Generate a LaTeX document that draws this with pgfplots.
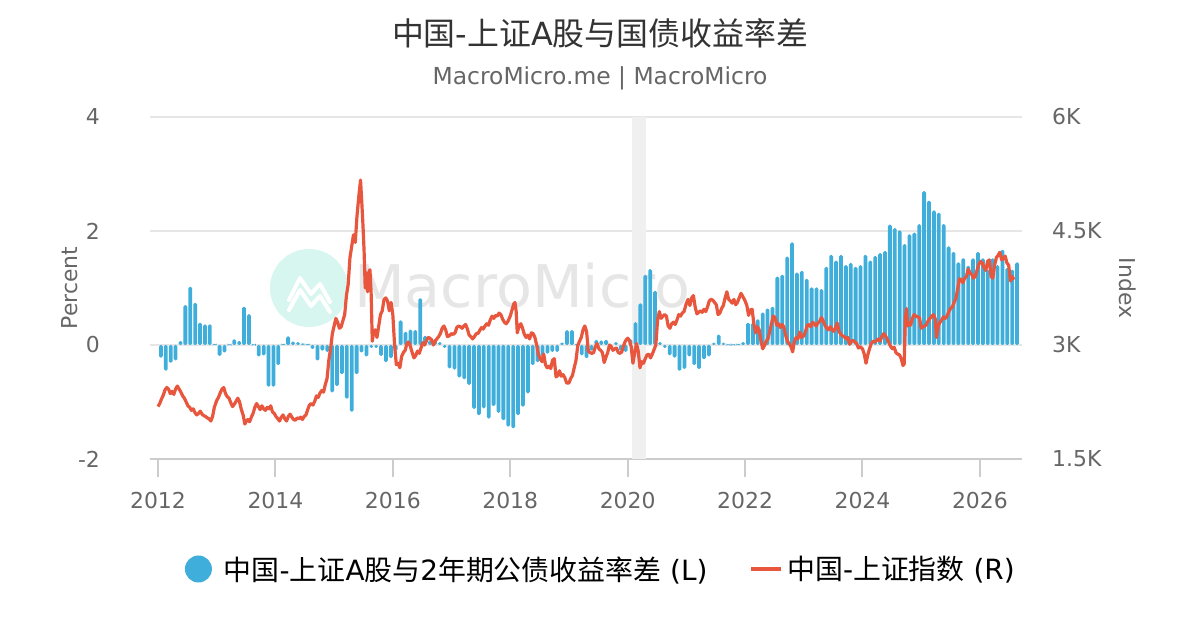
\documentclass[border=0pt]{standalone}
\usepackage{pgfplots}
\pgfplotsset{compat=1.18}
\usepackage{pgfplotstable}
\usepackage{fontspec}
\setmainfont{DejaVu Sans}
\newfontfamily\cjk{Noto Sans CJK SC}
\definecolor{bblue}{HTML}{3FAEDB}
\definecolor{lred}{HTML}{E8563E}
\definecolor{tgray}{HTML}{666666}
\definecolor{ttl}{HTML}{333333}
\definecolor{gridc}{HTML}{E6E6E6}
\definecolor{axc}{HTML}{CCCCCC}
\definecolor{mint}{HTML}{D7F6EF}
\definecolor{wm}{HTML}{E6E6E7}

\pgfplotstableread{
m v
0 -0.22
1 -0.45
2 -0.31
3 -0.27
4 0.07
5 0.70
6 1.02
7 0.74
8 0.39
9 0.36
10 0.36
11 0.02
12 -0.19
13 -0.13
14 0.01
15 0.10
16 0.07
17 0.67
18 0.54
19 0.01
20 -0.20
21 -0.18
22 -0.73
23 -0.73
24 -0.35
25 0.02
26 0.15
27 0.06
28 0.05
29 0.03
30 0.02
31 -0.07
32 -0.27
33 -0.10
34 -0.12
35 -0.83
36 -0.72
37 -0.51
38 -0.94
39 -1.17
40 -0.51
41 -0.13
42 -0.20
43 -0.05
44 -0.05
45 -0.19
46 -0.30
47 -0.23
48 -0.10
49 0.43
50 0.23
51 0.27
52 0.26
53 0.82
54 0.16
55 0.08
56 0.10
57 0.05
58 -0.05
59 -0.41
60 -0.43
61 -0.57
62 -0.60
63 -0.70
64 -1.12
65 -1.23
66 -1.11
67 -1.29
68 -1.07
69 -1.19
70 -1.32
71 -1.43
72 -1.46
73 -1.23
74 -1.08
75 -0.85
76 -0.35
77 -0.30
78 -0.20
79 -0.15
80 -0.12
81 -0.12
82 0.04
83 0.26
84 0.26
85 0.02
86 -0.18
87 -0.23
88 -0.10
89 0.09
90 0.08
91 0.09
92 -0.05
93 0.05
94 -0.10
95 -0.12
96 0.10
97 0.40
98 0.73
99 1.23
100 1.33
101 0.95
102 0.05
103 -0.05
104 -0.18
105 -0.22
106 -0.45
107 -0.42
108 -0.20
109 -0.35
110 -0.42
111 -0.25
112 -0.20
113 0.04
114 0.18
115 0.04
116 0.01
117 0.01
118 0.02
119 0.05
120 0.39
121 0.39
122 0.45
123 0.57
124 0.64
125 0.67
126 1.20
127 1.23
128 1.55
129 1.80
130 1.27
131 1.30
132 1.16
133 1.01
134 1.01
135 0.98
136 1.37
137 1.58
138 1.48
139 1.58
140 1.40
141 1.44
142 1.37
143 1.40
144 1.58
145 1.48
146 1.56
147 1.61
148 1.65
149 2.11
150 2.05
151 2.01
152 1.77
153 1.94
154 1.97
155 2.12
156 2.70
157 2.53
158 2.36
159 2.32
160 2.12
161 1.73
162 1.63
163 1.45
164 1.52
165 1.39
166 1.52
167 1.63
168 1.52
169 1.32
170 1.52
171 1.40
172 1.67
173 1.35
174 1.32
175 1.45
}\spread

\pgfplotstableread{
t y
2012.00 2190
2012.03 2230
2012.06 2290
2012.09 2340
2012.12 2410
2012.15 2440
2012.18 2420
2012.21 2360
2012.24 2390
2012.27 2350
2012.30 2420
2012.33 2460
2012.36 2420
2012.39 2380
2012.42 2330
2012.45 2300
2012.48 2250
2012.51 2200
2012.54 2180
2012.57 2140
2012.60 2160
2012.63 2110
2012.66 2080
2012.69 2100
2012.72 2130
2012.75 2090
2012.78 2070
2012.81 2060
2012.84 2040
2012.87 2030
2012.90 2000
2012.93 2060
2012.96 2180
2013.00 2270
2013.03 2310
2013.06 2370
2013.09 2420
2013.12 2440
2013.15 2360
2013.18 2320
2013.21 2300
2013.24 2240
2013.27 2190
2013.30 2220
2013.33 2260
2013.36 2300
2013.39 2250
2013.42 2150
2013.45 2080
2013.48 1960
2013.50 1990
2013.53 2020
2013.56 1990
2013.59 2050
2013.62 2100
2013.65 2180
2013.68 2230
2013.71 2190
2013.74 2150
2013.77 2200
2013.80 2160
2013.83 2140
2013.86 2180
2013.89 2160
2013.92 2200
2013.95 2120
2013.98 2100
2014.01 2060
2014.04 2030
2014.07 2000
2014.10 2050
2014.13 2080
2014.16 2030
2014.19 2000
2014.22 2060
2014.25 2090
2014.28 2050
2014.31 2020
2014.34 2010
2014.37 2040
2014.40 2030
2014.43 2050
2014.46 2020
2014.49 2060
2014.52 2080
2014.55 2150
2014.58 2210
2014.61 2230
2014.64 2210
2014.67 2260
2014.70 2330
2014.73 2310
2014.76 2370
2014.79 2400
2014.82 2380
2014.85 2480
2014.88 2560
2014.91 2800
2014.94 2950
2014.97 3150
2015.00 3250
2015.03 3350
2015.06 3300
2015.09 3220
2015.12 3240
2015.15 3320
2015.18 3400
2015.21 3650
2015.24 3800
2015.27 4150
2015.30 4300
2015.33 4450
2015.36 4350
2015.39 4700
2015.42 4950
2015.45 5170
2015.47 4900
2015.49 4600
2015.51 4250
2015.53 3750
2015.55 3950
2015.57 3700
2015.59 3950
2015.61 3990
2015.63 3700
2015.65 3050
2015.67 3150
2015.70 3200
2015.73 3100
2015.76 3250
2015.79 3400
2015.82 3450
2015.85 3600
2015.88 3620
2015.91 3580
2015.94 3450
2015.97 3560
2016.00 3400
2016.03 3000
2016.06 2740
2016.09 2760
2016.12 2700
2016.15 2850
2016.18 2900
2016.21 2930
2016.24 3020
2016.27 3040
2016.30 2980
2016.33 2900
2016.36 2830
2016.39 2860
2016.42 2920
2016.45 2890
2016.48 2960
2016.51 3030
2016.54 3000
2016.57 3050
2016.60 3100
2016.63 3090
2016.66 3070
2016.69 3000
2016.72 3050
2016.75 3080
2016.78 3110
2016.81 3150
2016.84 3220
2016.87 3250
2016.90 3200
2016.93 3110
2016.96 3120
2017.00 3150
2017.03 3140
2017.06 3160
2017.09 3230
2017.12 3250
2017.15 3240
2017.18 3220
2017.21 3250
2017.24 3270
2017.27 3210
2017.30 3130
2017.33 3110
2017.36 3080
2017.39 3110
2017.42 3150
2017.45 3150
2017.48 3190
2017.51 3230
2017.54 3210
2017.57 3250
2017.60 3280
2017.63 3260
2017.66 3330
2017.69 3380
2017.72 3350
2017.75 3390
2017.78 3380
2017.81 3420
2017.84 3400
2017.87 3340
2017.90 3300
2017.93 3280
2017.96 3310
2018.00 3380
2018.03 3460
2018.06 3540
2018.08 3560
2018.10 3450
2018.12 3160
2018.15 3250
2018.18 3280
2018.21 3220
2018.24 3140
2018.27 3100
2018.30 3130
2018.33 3080
2018.36 3160
2018.39 3150
2018.42 3100
2018.45 3000
2018.48 2880
2018.51 2820
2018.54 2780
2018.57 2880
2018.60 2740
2018.63 2700
2018.66 2720
2018.69 2690
2018.72 2800
2018.75 2820
2018.78 2580
2018.81 2600
2018.84 2660
2018.87 2590
2018.90 2610
2018.93 2570
2018.96 2500
2019.00 2500
2019.03 2560
2019.06 2600
2019.09 2700
2019.12 2800
2019.15 2990
2019.18 3050
2019.21 3100
2019.24 3200
2019.27 3250
2019.30 3180
2019.33 2920
2019.36 2900
2019.39 2890
2019.42 2900
2019.45 2980
2019.48 3020
2019.51 2950
2019.54 2930
2019.57 2900
2019.60 2770
2019.63 2840
2019.66 2900
2019.69 3000
2019.72 2980
2019.75 2930
2019.78 2950
2019.81 2960
2019.84 2900
2019.87 2890
2019.90 2910
2019.93 2990
2019.96 3050
2020.00 3090
2020.03 3060
2020.06 2980
2020.09 2760
2020.12 2900
2020.15 3020
2020.18 2920
2020.21 2700
2020.24 2780
2020.27 2760
2020.30 2820
2020.33 2870
2020.36 2880
2020.39 2830
2020.42 2880
2020.45 2940
2020.48 3000
2020.51 3330
2020.54 3440
2020.57 3350
2020.60 3380
2020.63 3400
2020.66 3380
2020.69 3250
2020.72 3220
2020.75 3280
2020.78 3300
2020.81 3270
2020.84 3330
2020.87 3400
2020.90 3380
2020.93 3420
2020.96 3440
2021.00 3550
2021.03 3600
2021.06 3520
2021.09 3620
2021.12 3650
2021.15 3500
2021.18 3410
2021.21 3430
2021.24 3450
2021.27 3430
2021.30 3470
2021.33 3440
2021.36 3500
2021.39 3580
2021.42 3600
2021.45 3590
2021.48 3560
2021.51 3530
2021.54 3400
2021.57 3420
2021.60 3480
2021.63 3520
2021.66 3620
2021.69 3700
2021.72 3600
2021.75 3580
2021.78 3550
2021.81 3600
2021.84 3530
2021.87 3560
2021.90 3620
2021.93 3680
2021.96 3640
2022.00 3580
2022.03 3520
2022.06 3390
2022.09 3460
2022.12 3470
2022.15 3280
2022.18 3160
2022.21 3240
2022.24 3200
2022.27 3060
2022.30 2950
2022.33 2990
2022.36 3050
2022.39 3080
2022.42 3180
2022.45 3280
2022.48 3380
2022.51 3360
2022.54 3260
2022.57 3280
2022.60 3230
2022.63 3270
2022.66 3240
2022.69 3130
2022.72 3050
2022.75 3020
2022.78 2980
2022.81 2910
2022.84 3050
2022.87 3100
2022.90 3080
2022.93 3170
2022.96 3100
2023.00 3120
2023.03 3180
2023.06 3260
2023.09 3270
2023.12 3240
2023.15 3300
2023.18 3280
2023.21 3250
2023.24 3290
2023.27 3310
2023.30 3360
2023.33 3320
2023.36 3260
2023.39 3220
2023.42 3200
2023.45 3240
2023.48 3200
2023.51 3180
2023.54 3230
2023.57 3290
2023.60 3180
2023.63 3140
2023.66 3120
2023.69 3110
2023.72 3080
2023.75 3100
2023.78 3010
2023.81 3050
2023.84 3060
2023.87 3040
2023.90 3020
2023.93 2960
2023.96 2980
2024.00 2950
2024.03 2880
2024.06 2760
2024.09 2870
2024.12 2950
2024.15 3020
2024.18 3050
2024.21 3040
2024.24 3060
2024.27 3080
2024.30 3050
2024.33 3110
2024.36 3150
2024.39 3120
2024.42 3080
2024.45 3030
2024.48 2980
2024.51 2950
2024.54 2970
2024.57 2900
2024.60 2880
2024.63 2870
2024.66 2820
2024.69 2730
2024.71 2750
2024.73 3350
2024.75 3480
2024.77 3250
2024.79 3300
2024.82 3260
2024.85 3350
2024.88 3400
2024.91 3380
2024.94 3370
2024.97 3360
2025.00 3220
2025.03 3240
2025.06 3250
2025.09 3270
2025.12 3320
2025.15 3350
2025.18 3380
2025.21 3400
2025.24 3340
2025.26 3100
2025.29 3250
2025.32 3300
2025.35 3330
2025.38 3370
2025.41 3350
2025.44 3380
2025.47 3440
2025.50 3480
2025.53 3500
2025.56 3560
2025.59 3610
2025.62 3730
2025.65 3870
2025.68 3860
2025.71 3820
2025.74 3880
2025.77 3900
2025.80 4000
2025.83 3950
2025.86 3930
2025.89 3880
2025.92 3900
2025.95 3980
2025.98 4060
2026.01 4100
2026.04 4080
2026.07 4020
2026.10 3980
2026.13 4100
2026.16 4120
2026.19 3900
2026.22 3880
2026.25 4050
2026.28 4150
2026.31 4180
2026.34 4220
2026.37 4120
2026.40 4140
2026.43 4170
2026.46 4080
2026.49 4050
2026.52 3840
2026.55 3900
2026.58 3860
}\index

\begin{document}
\begin{tikzpicture}
\useasboundingbox (0,0) rectangle (1200bp,630bp);
% watermark
\fill[mint] (309bp,342bp) circle (39bp);
\draw[white, line width=4bp, line join=round, line cap=round] (289bp,330bp) -- (300bp,352bp) -- (311bp,336bp) -- (320bp,346bp) -- (330bp,328bp);
\draw[white, line width=4bp, line join=round, line cap=round] (289bp,320bp) -- (300bp,340bp) -- (311bp,324bp) -- (320bp,334bp) -- (330bp,318bp);
\node[anchor=base west, inner sep=0pt, text=wm, font=\fontsize{59}{62}\selectfont] at (354bp,322bp) {MacroMicro};
% titles
\node[text=ttl, font=\fontsize{32}{36}\selectfont] at (600bp,597bp) {{\cjk 中国}-{\cjk 上证}A{\cjk 股与国债收益率差}};
\node[text=tgray, font=\fontsize{23.5}{26}\selectfont] at (600bp,552bp) {MacroMicro.me | MacroMicro};

\begin{axis}[
  at={(150bp,171bp)}, anchor=south west,
  scale only axis, width=872bp, height=342bp,
  xmin=2011.864, xmax=2026.717, ymin=-2, ymax=4,
  ybar, bar width=3.8bp,
  axis x line*=bottom, axis y line*=left,
  x axis line style={draw=axc, line width=2bp, -},
  y axis line style={draw=none},
  xtick={2012,2014,2016,2018,2020,2022,2024,2026},
  xticklabels={2012,2014,2016,2018,2020,2022,2024,2026},
  xtick style={draw=axc, line width=2bp},
  tick align=outside, major tick length=18bp,
  xticklabel style={text=tgray, font=\fontsize{22}{24}\selectfont, anchor=center, yshift=-24bp},
  ytick={-2,0,2,4}, yticklabels={-2,0,2,4},
  ytick style={draw=none},
  yticklabel style={text=tgray, font=\fontsize{22}{24}\selectfont, anchor=east, inner sep=0pt, xshift=-32bp},
  ymajorgrids, major grid style={draw=gridc, line width=1.6bp},
  ylabel={Percent},
  ylabel style={at={(axis description cs:-0.0917,0.5)}, anchor=center, text=tgray, font=\fontsize{22}{24}\selectfont},
  clip=false,
]
\fill[black!6] (axis cs:2020.08,-2) rectangle (axis cs:2020.32,4);
\addplot[fill=bblue, draw=none, rounded corners=1.5bp] table[x expr=2012.05+\thisrow{m}/12, y=v] {\spread};
\end{axis}

\begin{axis}[
  at={(150bp,171bp)}, anchor=south west,
  scale only axis, width=872bp, height=342bp,
  xmin=2011.864, xmax=2026.717, ymin=1500, ymax=6000,
  axis x line=none, axis y line*=right,
  y axis line style={draw=none},
  ytick={1500,3000,4500,6000}, yticklabels={1.5K,3K,4.5K,6K},
  ytick style={draw=none},
  yticklabel style={text=tgray, font=\fontsize{22}{24}\selectfont, anchor=west, inner sep=0pt, xshift=30bp},
  ylabel={Index},
  ylabel style={at={(axis description cs:1.1216,0.5)}, anchor=center, rotate=180, text=tgray, font=\fontsize{22}{24}\selectfont},
  legend style={at={(axis description cs:0.517,-0.3216)}, anchor=center, draw=none, fill=none,
    legend columns=2, font=\fontsize{28}{30}\selectfont, text=black,
    /tikz/every even column/.append style={column sep=40bp}},
  legend cell align=left,
]
\addlegendimage{legend image code/.code={\fill[bblue, draw=none] (13.5bp,0bp) circle (13.5bp); \path[draw=none, fill=none] (0bp,0bp) -- (37bp,0bp);}}
\addlegendentry{{\cjk 中国}-{\cjk 上证}A{\cjk 股与}2{\cjk 年期公债收益率差} (L)}
\addplot[lred, line width=3.2bp, line join=round,
  legend image code/.code={\draw[lred, line width=3.5bp] (0bp,0bp) -- (30bp,0bp); \path[draw=none, fill=none] (0bp,0bp) -- (34bp,0bp);}] table[x=t, y=y] {\index};
\addlegendentry{{\cjk 中国}-{\cjk 上证指数} (R)}
\end{axis}
\end{tikzpicture}
\end{document}
